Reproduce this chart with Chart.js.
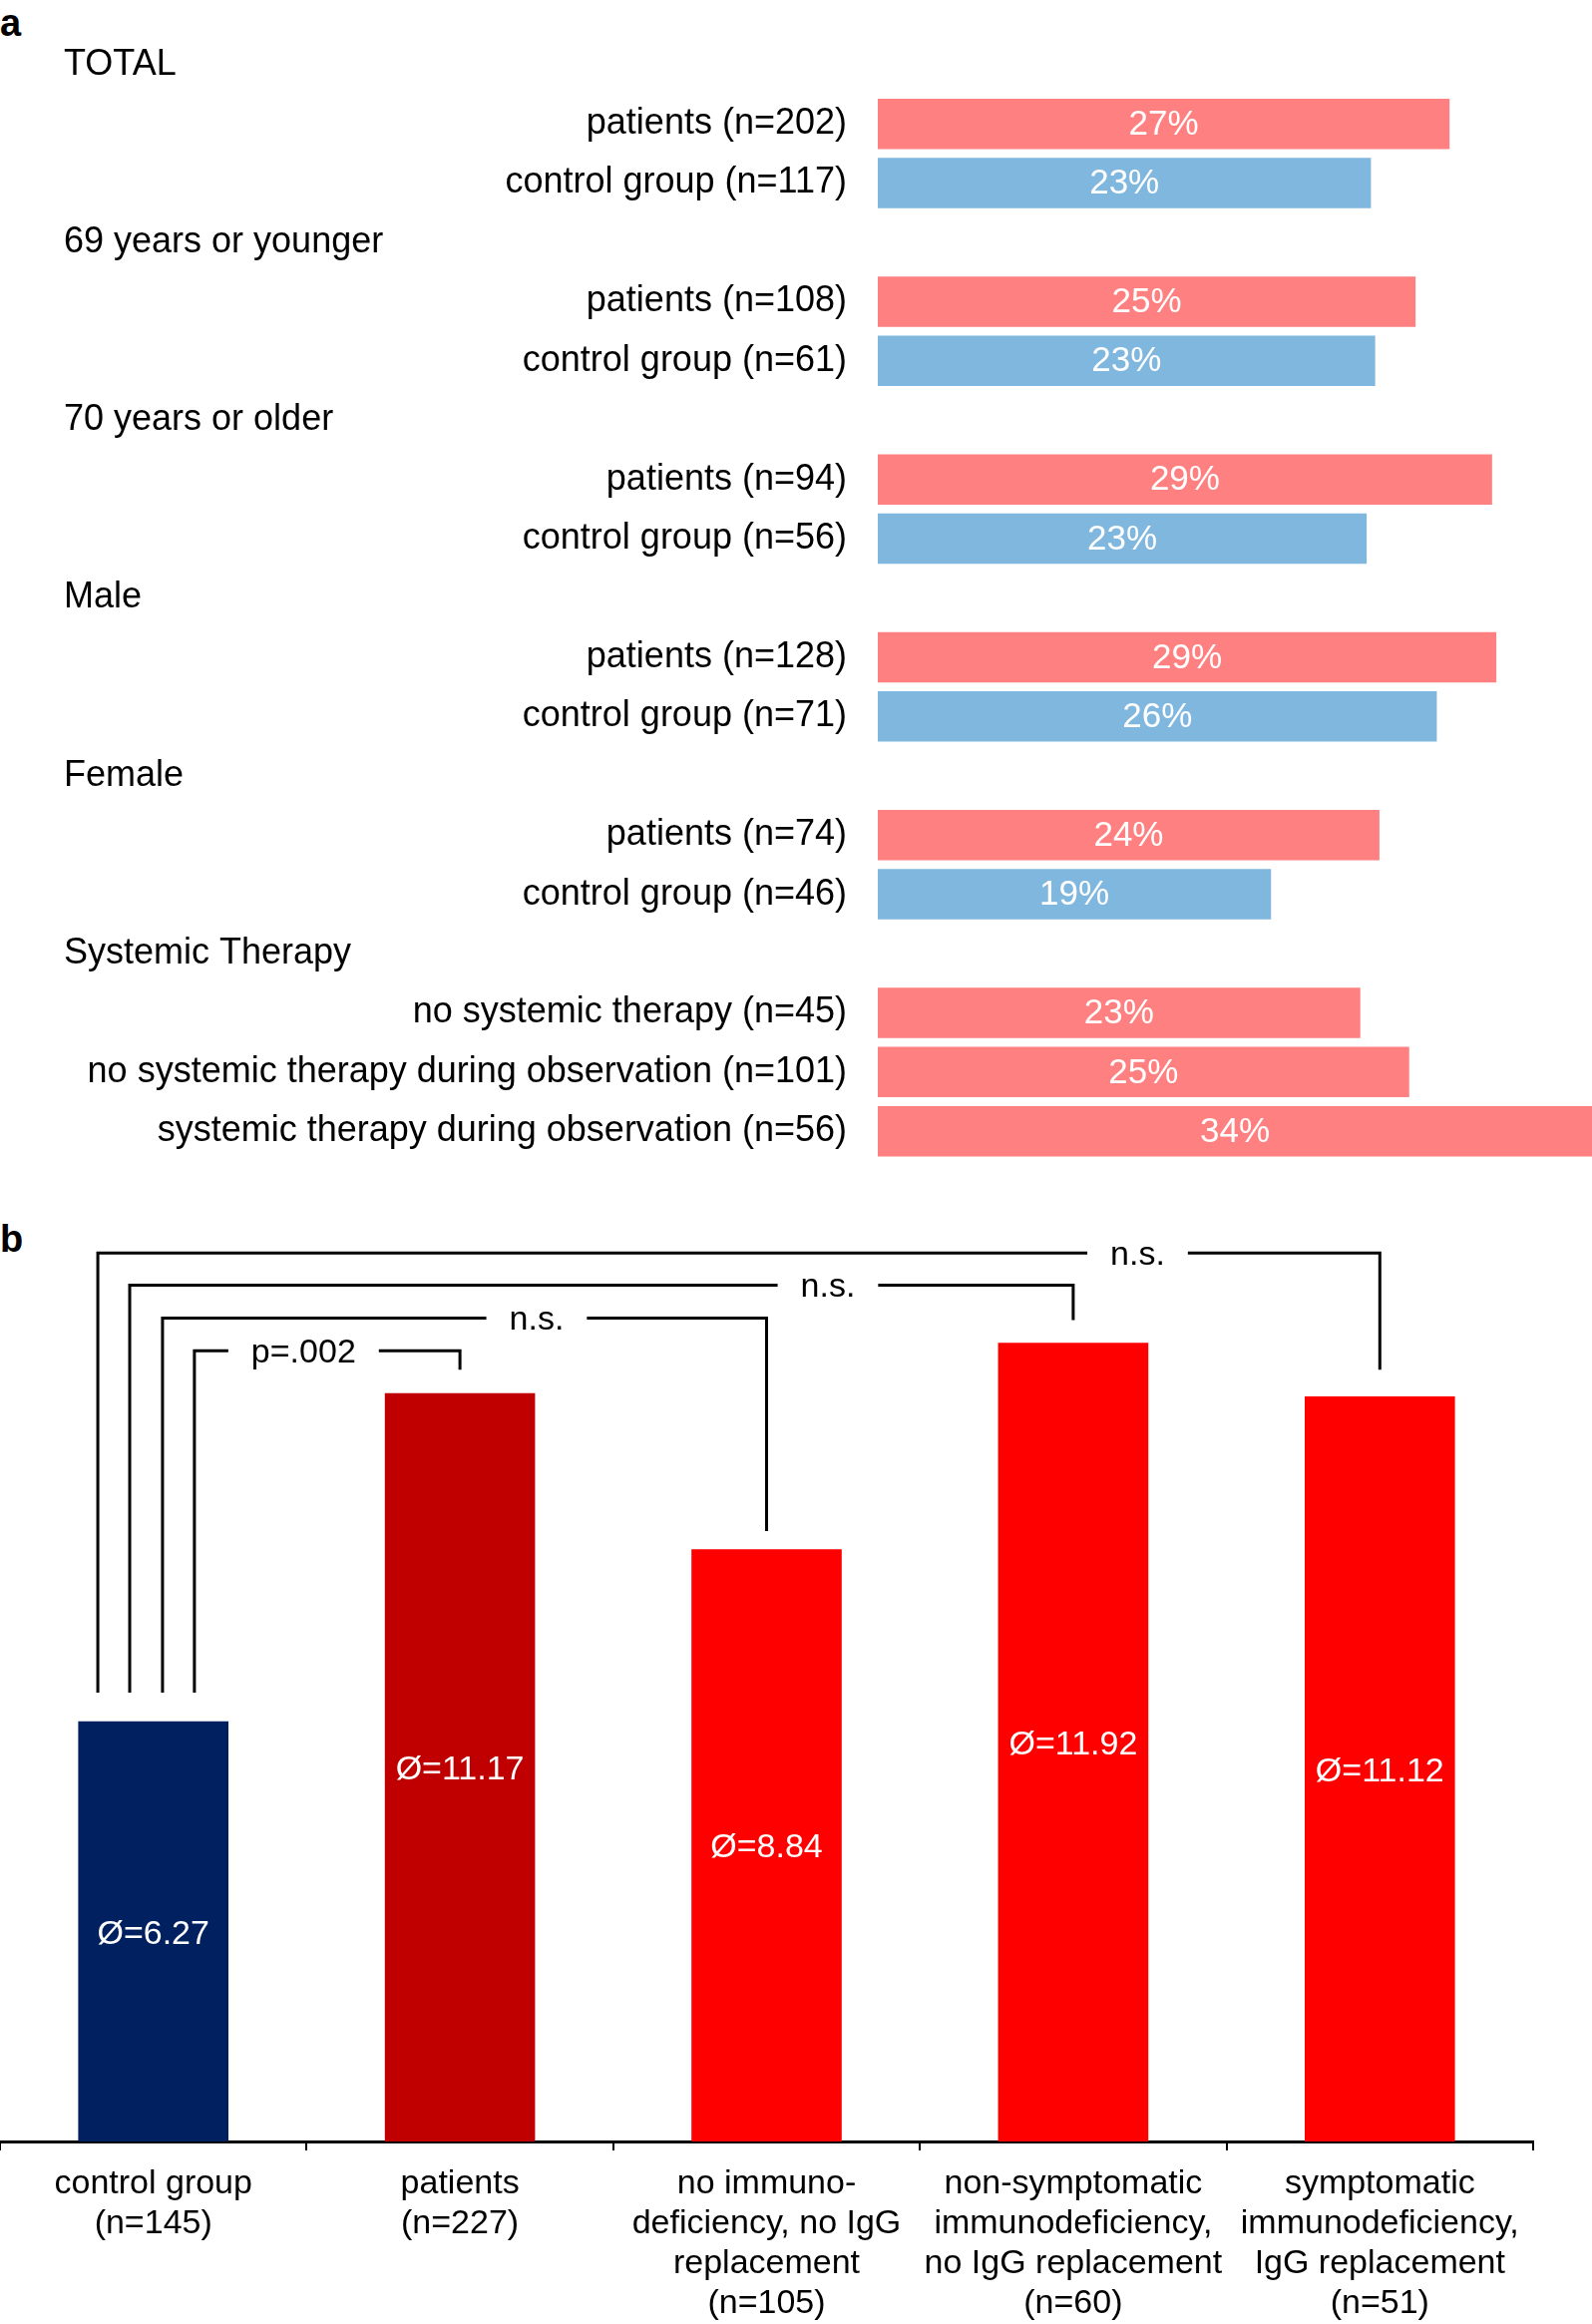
<!doctype html>
<html>
<head>
<meta charset="utf-8">
<script src="https://cdn.jsdelivr.net/npm/chart.js@4.4.1/dist/chart.umd.min.js"></script>
<style>
body { margin: 0; background: #fff; }
#wrap { position: relative; width: 1596px; height: 2330px; font-family: 'Liberation Sans', Arial, sans-serif; }
canvas { position: absolute; left: 0; }
.tag { position: absolute; left: 0; font-weight: bold; font-size: 38px; line-height: 38px; }
</style>
<script>
// panel a - share in % per group
const rowLabels = ['TOTAL', 'patients (n=202)', 'control group (n=117)',
  '69 years or younger', 'patients (n=108)', 'control group (n=61)',
  '70 years or older', 'patients (n=94)', 'control group (n=56)',
  'Male', 'patients (n=128)', 'control group (n=71)',
  'Female', 'patients (n=74)', 'control group (n=46)',
  'Systemic Therapy', 'no systemic therapy (n=45)',
  'no systemic therapy during observation (n=101)',
  'systemic therapy during observation (n=56)'];
const rowKind = ['head', 'pat', 'ctl', 'head', 'pat', 'ctl', 'head', 'pat', 'ctl',
  'head', 'pat', 'ctl', 'head', 'pat', 'ctl', 'head', 'pat', 'pat', 'pat'];
const rowValues = [null, 26.9, 23.2, null, 25.3, 23.4, null, 28.9, 23.0,
  null, 29.1, 26.3, null, 23.6, 18.5, null, 22.7, 25.0, 34.0];
const rowPctText = ['', '27%', '23%', '', '25%', '23%', '', '29%', '23%',
  '', '29%', '26%', '', '24%', '19%', '', '23%', '25%', '34%'];

// panel b - mean per group
const groupLabels = [['control group', '(n=145)'], ['patients', '(n=227)'],
  ['no immuno-', 'deficiency, no IgG', 'replacement', '(n=105)'],
  ['non-symptomatic', 'immunodeficiency,', 'no IgG replacement', '(n=60)'],
  ['symptomatic', 'immunodeficiency,', 'IgG replacement', '(n=51)']];
const groupMeans = [6.27, 11.17, 8.84, 11.92, 11.12];

// significance brackets, control group vs. group bracketTo
const bracketTo = [1, 2, 3, 4];
const bracketText = ['p=.002', 'n.s.', 'n.s.', 'n.s.'];
const bracketLevel = [11.80, 12.29, 12.78, 13.26];
const bracketDrop = [11.52, 9.11, 12.26, 11.52];
const bracketFrom = [0.134, 0.030, -0.077, -0.181];
const bracketTextAt = [0.49, 1.25, 2.2, 3.21];
const bracketFoot = 6.70;

const FONT = "'Liberation Sans', Arial, sans-serif";
const kindColor = { head: 'rgba(0,0,0,0)', pat: '#FF8080', ctl: '#80B7DF' };

function drawPanelA() {
  const labelPlugin = {
    id: 'rowText',
    afterDatasetsDraw(chart) {
      const ctx = chart.ctx;
      const area = chart.chartArea;
      const yScale = chart.scales.y;
      const meta = chart.getDatasetMeta(0);
      ctx.save();
      ctx.textBaseline = 'middle';
      // group headers
      ctx.font = '36px ' + FONT;
      ctx.fillStyle = '#000';
      ctx.textAlign = 'left';
      rowLabels.forEach(function(lbl, i) {
        if (rowKind[i] === 'head') ctx.fillText(lbl, 64, yScale.getPixelForValue(i));
      });
      // percentages inside bars
      ctx.font = '35px ' + FONT;
      ctx.fillStyle = '#fff';
      ctx.textAlign = 'center';
      meta.data.forEach(function(bar, i) {
        if (rowValues[i] === null) return;
        const cx = (bar.base + Math.min(bar.x, area.right)) / 2;
        ctx.fillText(rowPctText[i], cx, bar.y + 1);
      });
      ctx.restore();
    }
  };

  new Chart(document.getElementById('chartA').getContext('2d'), {
    type: 'bar',
    data: {
      labels: rowLabels,
      datasets: [{
        data: rowValues,
        backgroundColor: rowKind.map(function(k) { return kindColor[k]; }),
        barPercentage: 0.85,
        categoryPercentage: 1.0
      }]
    },
    options: {
      indexAxis: 'y',
      responsive: false,
      animation: false,
      devicePixelRatio: 1,
      layout: { padding: { top: 35, bottom: 16, left: 0, right: 0 } },
      plugins: { legend: { display: false }, tooltip: { enabled: false } },
      scales: {
        x: { display: false, min: 0, max: 33.6 },
        y: {
          grid: { display: false, drawTicks: false },
          border: { display: false },
          afterFit: function(scale) {
            scale.width = 880;
            scale.paddingTop = 0;
            scale.paddingBottom = 0;
          },
          ticks: {
            autoSkip: false,
            padding: 31,
            color: '#000',
            font: { family: FONT, size: 36 },
            callback: function(v, i) { return rowKind[i] === 'head' ? '' : rowLabels[i]; }
          }
        }
      }
    },
    plugins: [labelPlugin]
  });
}

function drawPanelB() {
  const bracketPlugin = {
    id: 'brackets',
    afterDatasetsDraw(chart) {
      const ctx = chart.ctx;
      const xs = chart.scales.x, ys = chart.scales.y;
      const meta = chart.getDatasetMeta(0);
      ctx.save();
      // mean values inside bars
      ctx.font = '34px ' + FONT;
      ctx.textAlign = 'center';
      ctx.textBaseline = 'middle';
      ctx.fillStyle = '#fff';
      meta.data.forEach(function(bar, i) {
        ctx.fillText('\u00D8=' + groupMeans[i].toFixed(2), bar.x, (bar.y + bar.base) / 2 + 3);
      });
      // brackets
      ctx.strokeStyle = '#000';
      ctx.lineWidth = 3;
      ctx.fillStyle = '#000';
      bracketTo.forEach(function(to, i) {
        const x0 = xs.getPixelForValue(bracketFrom[i]);
        const x1 = xs.getPixelForValue(to);
        const y = ys.getPixelForValue(bracketLevel[i]);
        const tx = xs.getPixelForValue(bracketTextAt[i]);
        const half = ctx.measureText(bracketText[i]).width / 2 + 23;
        ctx.beginPath();
        ctx.moveTo(x0, ys.getPixelForValue(bracketFoot));
        ctx.lineTo(x0, y);
        ctx.lineTo(tx - half, y);
        ctx.moveTo(tx + half, y);
        ctx.lineTo(x1, y);
        ctx.lineTo(x1, ys.getPixelForValue(bracketDrop[i]));
        ctx.stroke();
        ctx.fillText(bracketText[i], tx, y + 2);
      });
      ctx.restore();
    }
  };

  new Chart(document.getElementById('chartB').getContext('2d'), {
    type: 'bar',
    data: {
      labels: groupLabels,
      datasets: [{
        data: groupMeans,
        backgroundColor: ['#002060', '#C00000', '#FF0000', '#FF0000', '#FF0000'],
        barPercentage: 0.49,
        categoryPercentage: 1.0
      }]
    },
    options: {
      responsive: false,
      animation: false,
      devicePixelRatio: 1,
      layout: { padding: { top: 40, bottom: 0, left: 0, right: 59 } },
      plugins: { legend: { display: false }, tooltip: { enabled: false } },
      scales: {
        y: { display: false, min: 0, max: 13.8 },
        x: {
          border: { display: true, color: '#000', width: 3 },
          grid: { display: true, drawOnChartArea: false, drawTicks: true, tickLength: 9, color: '#000', lineWidth: 2, offset: true },
          afterFit: function(scale) { scale.height = 183; },
          ticks: {
            autoSkip: false,
            maxRotation: 0,
            minRotation: 0,
            padding: 14,
            color: '#000',
            font: { family: FONT, size: 34, lineHeight: 1.17 }
          }
        }
      }
    },
    plugins: [bracketPlugin]
  });
}

function start() {
  drawPanelA();
  drawPanelB();
}
</script>
</head>
<body onload="start()">
<div id="wrap">
  <div class="tag" style="top:4px">a</div>
  <canvas id="chartA" width="1596" height="1180" style="top:0"></canvas>
  <div class="tag" style="top:1223px">b</div>
  <canvas id="chartB" width="1596" height="1150" style="top:1180px"></canvas>
</div>
</body>
</html>
